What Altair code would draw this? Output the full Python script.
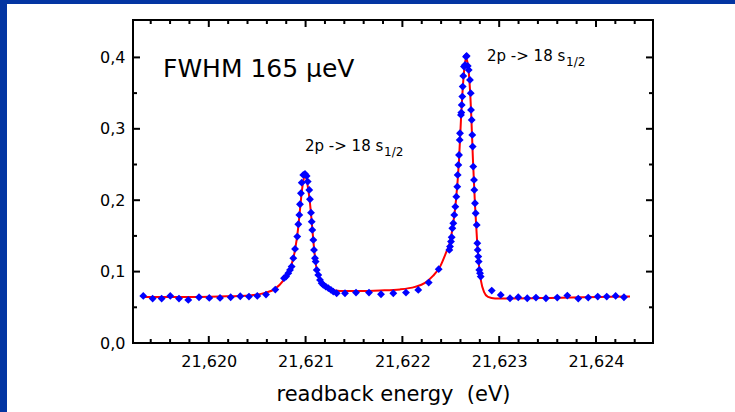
import altair as alt
import pandas as pd

# ---- measured data (energy in eV, signal in arb. units) ----
energy = [
    21.619323, 21.619420, 21.619513, 21.619602, 21.619692, 21.619788, 21.619899, 21.620005,
    21.620116, 21.620226, 21.620325, 21.620415, 21.620501, 21.620591, 21.620687, 21.620777,
    21.620798, 21.620821, 21.620839, 21.620856, 21.620873, 21.620891, 21.620914, 21.620925,
    21.620935, 21.620942, 21.620952, 21.620960, 21.620976, 21.620994, 21.621011, 21.621022,
    21.621038, 21.621045, 21.621056, 21.621063, 21.621069, 21.621080, 21.621087, 21.621097,
    21.621104, 21.621115, 21.621131, 21.621149, 21.621166, 21.621183, 21.621208, 21.621235,
    21.621262, 21.621286, 21.621321, 21.621407, 21.621521, 21.621655, 21.621779, 21.621906,
    21.622037, 21.622164, 21.622272, 21.622375, 21.622485, 21.622492, 21.622502, 21.622509,
    21.622516, 21.622526, 21.622536, 21.622547, 21.622557, 21.622567, 21.622571, 21.622578,
    21.622585, 21.622592, 21.622595, 21.622605, 21.622609, 21.622613, 21.622619, 21.622623,
    21.622629, 21.622636, 21.622647, 21.622657, 21.622664, 21.622675, 21.622685, 21.622698,
    21.622706, 21.622709, 21.622716, 21.622722, 21.622726, 21.622732, 21.622740, 21.622743,
    21.622750, 21.622757, 21.622768, 21.622774, 21.622778, 21.622784, 21.622788, 21.622794,
    21.622802, 21.622809, 21.622923, 21.623016, 21.623112, 21.623197, 21.623290, 21.623380,
    21.623483, 21.623600, 21.623704, 21.623817, 21.623920, 21.624018, 21.624111, 21.624203,
    21.624289,
]
signal = [
    0.0660, 0.0622, 0.0622, 0.0660, 0.0622, 0.0604, 0.0641, 0.0632,
    0.0632, 0.0641, 0.0655, 0.0650, 0.0660, 0.0678, 0.0748, 0.0908,
    0.0930, 0.0978, 0.1024, 0.1070, 0.1188, 0.1318, 0.1490, 0.1664,
    0.1794, 0.1944, 0.2098, 0.2246, 0.2354, 0.2368, 0.2340, 0.2261,
    0.2144, 0.2014, 0.1826, 0.1700, 0.1584, 0.1444, 0.1304, 0.1188,
    0.1140, 0.1024, 0.0954, 0.0884, 0.0838, 0.0814, 0.0790, 0.0768,
    0.0744, 0.0720, 0.0697, 0.0697, 0.0706, 0.0706, 0.0683, 0.0697,
    0.0706, 0.0744, 0.0846, 0.1034, 0.1304, 0.1350, 0.1420, 0.1482,
    0.1608, 0.1678, 0.1794, 0.1910, 0.2050, 0.2190, 0.2354, 0.2494,
    0.2634, 0.2845, 0.2938, 0.3195, 0.3227, 0.3335, 0.3451, 0.3591,
    0.3741, 0.3871, 0.3895, 0.4011, 0.4021, 0.3881, 0.3825, 0.3685,
    0.3499, 0.3265, 0.3125, 0.2915, 0.2751, 0.2471, 0.2284, 0.2144,
    0.1958, 0.1818, 0.1654, 0.1398, 0.1304, 0.1210, 0.1140, 0.1024,
    0.0978, 0.0930, 0.0734, 0.0674, 0.0627, 0.0641, 0.0627, 0.0636,
    0.0627, 0.0636, 0.0664, 0.0622, 0.0636, 0.0650, 0.0650, 0.0660,
    0.0641,
]

# ---- fit curve ----
fit_energy = [
    21.619320, 21.619702, 21.620116, 21.620426, 21.620581, 21.620684, 21.620767, 21.620818,
    21.620860, 21.620891, 21.620921, 21.620942, 21.620963, 21.620983, 21.620994, 21.621004,
    21.621025, 21.621045, 21.621066, 21.621087, 21.621107, 21.621128, 21.621159, 21.621200,
    21.621252, 21.621355, 21.621562, 21.621769, 21.621975, 21.622130, 21.622233, 21.622316,
    21.622388, 21.622450, 21.622492, 21.622523, 21.622554, 21.622585, 21.622605, 21.622626,
    21.622647, 21.622657, 21.622667, 21.622688, 21.622709, 21.622729, 21.622750, 21.622771,
    21.622791, 21.622812, 21.622843, 21.622884, 21.622957, 21.623112, 21.623525, 21.624041,
    21.624351,
]
fit_signal = [
    0.0646, 0.0646, 0.0653, 0.0667, 0.0702, 0.0758, 0.0870, 0.0982,
    0.1122, 0.1304, 0.1584, 0.1864, 0.2144, 0.2312, 0.2340, 0.2326,
    0.2172, 0.1962, 0.1654, 0.1332, 0.1094, 0.0954, 0.0842, 0.0786,
    0.0751, 0.0730, 0.0730, 0.0737, 0.0751, 0.0786, 0.0842, 0.0940,
    0.1066, 0.1262, 0.1416, 0.1654, 0.2004, 0.2564, 0.3125, 0.3615,
    0.3923, 0.3993, 0.3965, 0.3755, 0.3265, 0.2564, 0.1934, 0.1444,
    0.1094, 0.0870, 0.0716, 0.0646, 0.0625, 0.0625, 0.0632, 0.0646,
    0.0653,
]

# ---- axis ticks ----
x_major = [21.620, 21.621, 21.622, 21.623, 21.624]
x_minor = [21.6194, 21.6196, 21.6198, 21.6202, 21.6204, 21.6206, 21.6208,
           21.6212, 21.6214, 21.6216, 21.6218, 21.6222, 21.6224, 21.6226, 21.6228,
           21.6232, 21.6234, 21.6236, 21.6238, 21.6242, 21.6244]
y_major = [0.0, 0.1, 0.2, 0.3, 0.4]
y_minor = [0.05, 0.15, 0.25, 0.35]

X_DOMAIN = [21.619217, 21.624589]
Y_DOMAIN = [0.0, 0.4524]
W, H = 520, 323
FONT = "DejaVu Sans"
BLUE_FRAME = "#0335a2"

pts = pd.DataFrame({"energy": energy, "signal": signal})
fit = pd.DataFrame({"energy": fit_energy, "signal": fit_signal})
one = pd.DataFrame({"k": [0]})

xs = alt.Scale(domain=X_DOMAIN, nice=False, zero=False)
ys = alt.Scale(domain=Y_DOMAIN, nice=False, zero=False)

x_axis = alt.Axis(
    values=x_major, labelExpr="replace(format(datum.value, '.3f'), '.', ',')",
    title="readback energy\u00a0 (eV)", titleFont=FONT, titleFontSize=21, titleFontWeight="normal",
    titleColor="black", titleX=260, titleY=57, titleBaseline="alphabetic", titleAlign="center",
    titleAngle=0, labelFont=FONT, labelFontSize=16, labelColor="black", labelPadding=10,
    ticks=False, tickSize=0, domain=False, grid=False, zindex=1,
)
y_axis = alt.Axis(
    values=y_major, labelExpr="replace(format(datum.value, '.1f'), '.', ',')",
    title=None, labelFont=FONT, labelFontSize=16, labelColor="black", labelPadding=8,
    ticks=False, tickSize=0, domain=False, grid=False, zindex=1,
)

# frame decoration (blue slide border)
left_bar = alt.Chart(one).mark_rect(color=BLUE_FRAME).encode(
    x=alt.value(-133), x2=alt.value(-126), y=alt.value(-20), y2=alt.value(392))
top_bar = alt.Chart(one).mark_rect(color=BLUE_FRAME).encode(
    x=alt.value(-133), x2=alt.value(602), y=alt.value(-20), y2=alt.value(-16))

curve = alt.Chart(fit).mark_line(color="#ff0000", strokeWidth=2, interpolate="monotone").encode(
    x=alt.X("energy:Q", scale=xs, axis=x_axis),
    y=alt.Y("signal:Q", scale=ys, axis=y_axis),
)
points = alt.Chart(pts).mark_point(shape="diamond", filled=True, size=62, color="#0000ff", opacity=1).encode(
    x=alt.X("energy:Q", scale=xs),
    y=alt.Y("signal:Q", scale=ys),
)

def xticks(vals, length):
    d = pd.DataFrame({"t": vals})
    bottom = alt.Chart(d).mark_rule(color="black", strokeWidth=2).encode(
        x=alt.X("t:Q", scale=xs), y=alt.value(H), y2=alt.value(H - length))
    top = alt.Chart(d).mark_rule(color="black", strokeWidth=2).encode(
        x=alt.X("t:Q", scale=xs), y=alt.value(0), y2=alt.value(length))
    return [bottom, top]

def yticks(vals, length):
    d = pd.DataFrame({"t": vals})
    left = alt.Chart(d).mark_rule(color="black", strokeWidth=2).encode(
        y=alt.Y("t:Q", scale=ys), x=alt.value(0), x2=alt.value(length))
    right = alt.Chart(d).mark_rule(color="black", strokeWidth=2).encode(
        y=alt.Y("t:Q", scale=ys), x=alt.value(W), x2=alt.value(W - length))
    return [left, right]

tick_layers = xticks(x_major, 7) + xticks(x_minor, 4) + yticks(y_major, 7) + yticks(y_minor, 4)

def label(text, x, y, size):
    return alt.Chart(one).mark_text(
        text=text, font=FONT, fontSize=size, color="black", align="left", baseline="alphabetic"
    ).encode(x=alt.value(x), y=alt.value(y))

texts = [
    label("FWHM 165 μeV", 30, 57, 25),
    label("2p -> 18 s", 172, 131, 15),
    label("1/2", 251, 136, 12),
    label("2p -> 18 s", 354, 41, 15),
    label("1/2", 433, 46, 12),
]

chart = alt.layer(
    left_bar, top_bar, curve, points, *tick_layers, *texts
).properties(
    width=W, height=H, padding=0, background="white"
).configure_view(
    stroke="black", strokeWidth=2
)

chart.save("out.html", embed_options={"renderer": "svg", "actions": False})
